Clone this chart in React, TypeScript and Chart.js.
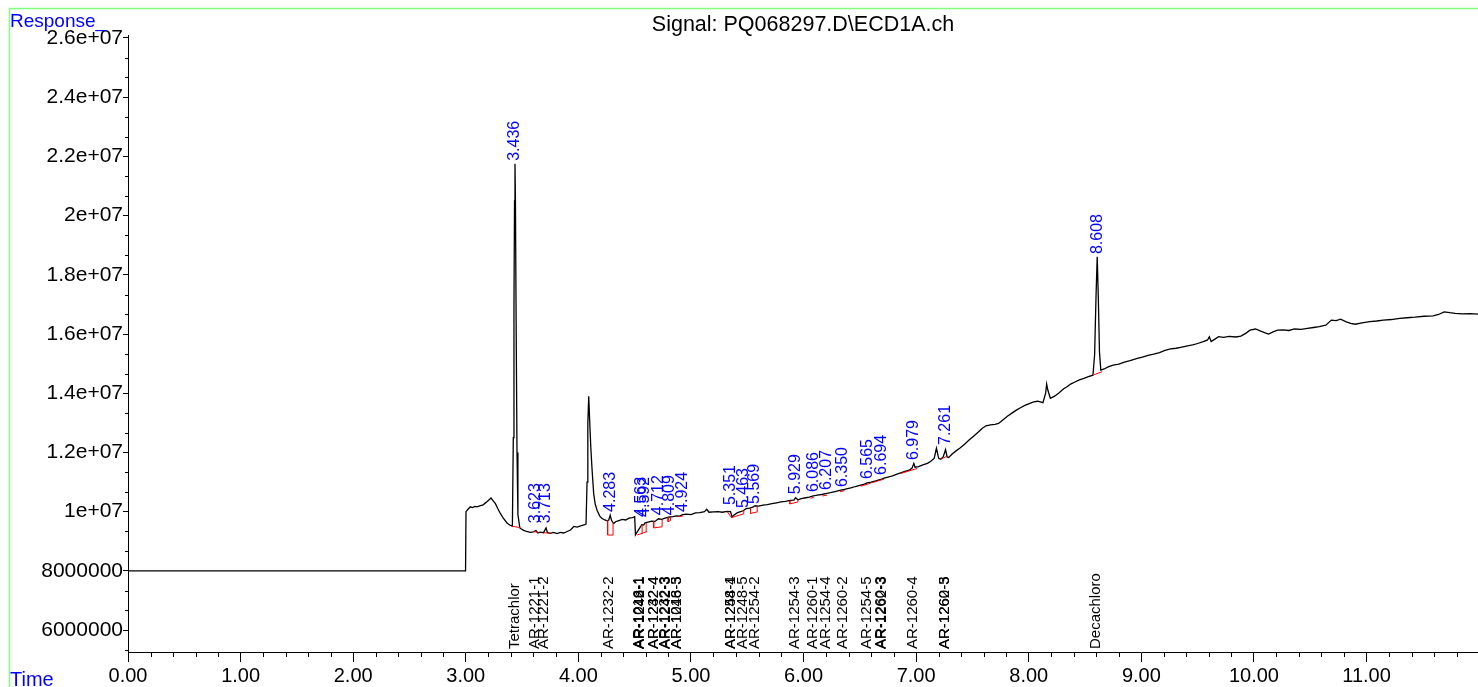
import React, { useEffect, useRef } from "react";
import { Chart, registerables } from "chart.js";

Chart.register(...registerables);

// ---- Data ----
const TITLE = "Signal: PQ068297.D\\ECD1A.ch";
const Y_LABEL = "Response_";
const X_LABEL = "Time";

// axis ticks
const X_TICKS = [0, 1, 2, 3, 4, 5, 6, 7, 8, 9, 10, 11];
const Y_TICKS = [6e6, 8e6, 1e7, 1.2e7, 1.4e7, 1.6e7, 1.8e7, 2e7, 2.2e7, 2.4e7, 2.6e7];

// retention time (min)
const TIME = [
  0.0, 1.0, 2.0, 2.998, 3.002, 3.02, 3.04, 3.06, 3.08, 3.1, 3.13, 3.15, 3.17, 3.19, 3.21, 3.224, 3.24, 3.262, 3.285,
  3.307, 3.33, 3.366, 3.39, 3.414, 3.422, 3.428, 3.433, 3.437, 3.441, 3.447, 3.455, 3.463, 3.48, 3.5, 3.514, 3.54,
  3.573, 3.6, 3.623, 3.64, 3.66, 3.69, 3.713, 3.725, 3.75, 3.78, 3.81, 3.84, 3.87, 3.9, 3.93, 3.96, 3.99, 4.02,
  4.05, 4.068, 4.077, 4.084, 4.092, 4.1, 4.11, 4.122, 4.136, 4.15, 4.166, 4.19, 4.21, 4.235, 4.255, 4.27, 4.283,
  4.295, 4.314, 4.33, 4.36, 4.39, 4.42, 4.45, 4.48, 4.5, 4.507, 4.52, 4.54, 4.563, 4.58, 4.592, 4.62, 4.65, 4.68,
  4.712, 4.74, 4.77, 4.809, 4.84, 4.87, 4.9, 4.924, 4.96, 5.0, 5.04, 5.08, 5.12, 5.14, 5.16, 5.2, 5.24, 5.28, 5.32,
  5.351, 5.365, 5.38, 5.41, 5.44, 5.463, 5.49, 5.52, 5.55, 5.569, 5.6, 5.64, 5.677, 5.72, 5.76, 5.8, 5.84, 5.88,
  5.914, 5.929, 5.95, 5.98, 6.02, 6.05, 6.086, 6.122, 6.16, 6.207, 6.24, 6.28, 6.329, 6.35, 6.38, 6.42, 6.46,
  6.507, 6.54, 6.565, 6.6, 6.64, 6.694, 6.714, 6.75, 6.79, 6.83, 6.862, 6.9, 6.94, 6.965, 6.979, 6.99, 7.02, 7.06,
  7.1, 7.13, 7.16, 7.18, 7.2, 7.218, 7.24, 7.261, 7.275, 7.289, 7.32, 7.36, 7.387, 7.43, 7.47, 7.51, 7.55, 7.585,
  7.62, 7.66, 7.7, 7.732, 7.77, 7.81, 7.847, 7.89, 7.93, 7.97, 8.01, 8.044, 8.08, 8.126, 8.15, 8.159, 8.17, 8.192,
  8.23, 8.27, 8.31, 8.34, 8.372, 8.41, 8.45, 8.49, 8.53, 8.57, 8.585, 8.597, 8.608, 8.618, 8.628, 8.64, 8.67, 8.71,
  8.75, 8.8, 8.85, 8.9, 8.964, 9.01, 9.06, 9.11, 9.161, 9.21, 9.26, 9.31, 9.36, 9.41, 9.456, 9.5, 9.55, 9.588,
  9.604, 9.62, 9.65, 9.686, 9.73, 9.78, 9.84, 9.884, 9.93, 9.965, 10.014, 10.06, 10.1, 10.13, 10.17, 10.21, 10.26,
  10.31, 10.36, 10.42, 10.475, 10.53, 10.58, 10.638, 10.688, 10.73, 10.77, 10.82, 10.86, 10.9, 10.96, 11.03, 11.09,
  11.15, 11.22, 11.295, 11.36, 11.43, 11.51, 11.591, 11.64, 11.689, 11.74, 11.788, 11.85, 11.92, 11.99,
];

// detector response
const RESPONSE = [
  8.0e6, 8.0e6, 8.0e6, 8.0e6, 1.0e7, 1.008e7, 1.0165e7, 1.014e7, 1.018e7, 1.016e7, 1.02e7, 1.022e7, 1.028e7, 1.034e7,
  1.041e7, 1.046e7, 1.038e7, 1.028e7, 1.01e7, 9.94e6, 9.8e6, 9.62e6, 9.55e6, 9.51e6, 1.25e7, 1.7e7, 2.05e7, 2.175e7,
  2.05e7, 1.65e7, 1.2e7, 9.9e6, 9.45e6, 9.4e6, 9.37e6, 9.33e6, 9.3e6, 9.32e6, 9.36e6, 9.28e6, 9.31e6, 9.29e6, 9.45e6,
  9.3e6, 9.27e6, 9.3e6, 9.26e6, 9.3e6, 9.28e6, 9.33e6, 9.38e6, 9.5e6, 9.48e6, 9.52e6, 9.55e6, 9.58e6, 1.1e7, 1.3e7,
  1.39e7, 1.31e7, 1.22e7, 1.14e7, 1.06e7, 1.025e7, 1.005e7, 9.85e6, 9.77e6, 9.72e6, 9.69e6, 9.72e6, 9.88e6, 9.7e6,
  9.6e6, 9.66e6, 9.7e6, 9.74e6, 9.72e6, 9.78e6, 9.8e6, 9.83e6, 9.22e6, 9.3e6, 9.42e6, 9.56e6, 9.55e6, 9.62e6, 9.65e6,
  9.68e6, 9.67e6, 9.76e6, 9.74e6, 9.78e6, 9.82e6, 9.83e6, 9.86e6, 9.85e6, 9.9e6, 9.92e6, 9.9e6, 9.96e6, 9.97e6,
  1.0e7, 1.008e7, 9.98e6, 9.99e6, 1.0e7, 9.98e6, 1.001e7, 1.0e7, 9.82e6, 9.88e6, 9.96e6, 1.0e7, 1.003e7, 1.01e7,
  1.012e7, 1.015e7, 1.02e7, 1.019e7, 1.022e7, 1.024e7, 1.027e7, 1.03e7, 1.033e7, 1.035e7, 1.038e7, 1.039e7, 1.047e7,
  1.04e7, 1.044e7, 1.047e7, 1.049e7, 1.053e7, 1.056e7, 1.058e7, 1.062e7, 1.064e7, 1.068e7, 1.073e7, 1.074e7,
  1.077e7, 1.08e7, 1.085e7, 1.09e7, 1.093e7, 1.097e7, 1.1e7, 1.104e7, 1.11e7, 1.113e7, 1.117e7, 1.121e7, 1.127e7,
  1.131e7, 1.136e7, 1.14e7, 1.148e7, 1.163e7, 1.15e7, 1.152e7, 1.158e7, 1.163e7, 1.17e7, 1.18e7, 1.214e7, 1.18e7,
  1.177e7, 1.185e7, 1.21e7, 1.185e7, 1.183e7, 1.195e7, 1.207e7, 1.214e7, 1.228e7, 1.242e7, 1.255e7, 1.268e7,
  1.281e7, 1.29e7, 1.293e7, 1.295e7, 1.298e7, 1.31e7, 1.322e7, 1.332e7, 1.343e7, 1.352e7, 1.36e7, 1.366e7, 1.371e7,
  1.373e7, 1.368e7, 1.4e7, 1.431e7, 1.41e7, 1.383e7, 1.39e7, 1.402e7, 1.415e7, 1.422e7, 1.431e7, 1.438e7, 1.445e7,
  1.45e7, 1.456e7, 1.461e7, 1.53e7, 1.72e7, 1.861e7, 1.72e7, 1.54e7, 1.478e7, 1.482e7, 1.49e7, 1.495e7, 1.498e7,
  1.505e7, 1.51e7, 1.518e7, 1.522e7, 1.528e7, 1.532e7, 1.537e7, 1.545e7, 1.55e7, 1.552e7, 1.556e7, 1.56e7, 1.563e7,
  1.568e7, 1.574e7, 1.58e7, 1.591e7, 1.575e7, 1.582e7, 1.591e7, 1.589e7, 1.592e7, 1.59e7, 1.593e7, 1.603e7,
  1.613e7, 1.617e7, 1.61e7, 1.604e7, 1.6e7, 1.607e7, 1.613e7, 1.614e7, 1.612e7, 1.617e7, 1.616e7, 1.619e7, 1.622e7,
  1.625e7, 1.63e7, 1.647e7, 1.645e7, 1.65e7, 1.641e7, 1.636e7, 1.633e7, 1.638e7, 1.642e7, 1.644e7, 1.647e7,
  1.649e7, 1.653e7, 1.655e7, 1.657e7, 1.66e7, 1.661e7, 1.666e7, 1.675e7, 1.672e7, 1.67e7, 1.668e7, 1.669e7, 1.667e7,
];

// integration baselines (null separates segments)
const BASE_T = [
  3.41, 3.484, null, 3.6, 3.644, null, 3.689, 3.751, null, 4.26, 4.26, 4.308, 4.308, null, 4.522, 4.611, null,
  4.566, 4.566, null, 4.602, 4.602, null, 4.669, 4.669, 4.744, 4.744, null, 4.797, 4.797, 4.818, 4.818, null,
  4.889, 4.933, null, 5.322, 5.36, 5.469, 5.469, null, 5.529, 5.529, 5.588, 5.588, null, 5.878, 5.878, 5.95, 5.95,
  null, 6.062, 6.092, null, 6.166, 6.21, null, 6.323, 6.364, null, 6.507, 6.596, null, 6.61, 6.714, null, 6.862,
  7.01, null, 7.218, 7.277, null, 8.57, 8.652,
];
const BASE_R = [
  9.51e6, 9.46e6, null, 9.33e6, 9.3e6, null, 9.29e6, 9.27e6, null, 9.7e6, 9.21e6, 9.21e6, 9.62e6, null, 9.21e6,
  9.33e6, null, 9.26e6, 9.56e6, null, 9.31e6, 9.62e6, null, 9.67e6, 9.45e6, 9.49e6, 9.74e6, null, 9.8e6, 9.66e6,
  9.7e6, 9.82e6, null, 9.83e6, 9.86e6, null, 1.0e7, 9.8e6, 9.93e6, 1.004e7, null, 1.012e7, 9.94e6, 9.99e6, 1.019e7,
  null, 1.037e7, 1.026e7, 1.033e7, 1.04e7, null, 1.045e7, 1.049e7, null, 1.053e7, 1.056e7, null, 1.067e7, 1.071e7,
  null, 1.086e7, 1.096e7, null, 1.098e7, 1.11e7, null, 1.129e7, 1.146e7, null, 1.177e7, 1.188e7, null, 1.461e7,
  1.473e7,
];

// labelled peaks: retention time and apex height
const PEAK_RT = [3.436, 3.623, 3.713, 4.283, 4.563, 4.592, 4.712, 4.809, 4.924, 5.351, 5.463, 5.569, 5.929, 6.086,
  6.207, 6.35, 6.565, 6.694, 6.979, 7.261, 8.608];
const PEAK_APEX = [2.175e7, 9.51e6, 9.51e6, 9.89e6, 9.72e6, 9.72e6, 9.78e6, 9.78e6, 9.89e6, 1.012e7, 1.002e7,
  1.016e7, 1.049e7, 1.056e7, 1.063e7, 1.073e7, 1.1e7, 1.114e7, 1.164e7, 1.215e7, 1.86e7];

// compound names and their expected retention times
const COMPOUND_NAMES = [
  "Tetrachlor", "AR-1221-1", "AR-1221-2", "AR-1232-2",
  "AR-1016-1", "AR-1242-1", "AR-1248-1",
  "AR-1232-4", "AR-1242-4",
  "AR-1232-3", "AR-1242-3",
  "AR-1016-5", "AR-1248-3",
  "AR-1248-4", "AR-1254-1", "AR-1248-5", "AR-1254-2",
  "AR-1254-3", "AR-1260-1", "AR-1254-4", "AR-1260-2", "AR-1254-5",
  "AR-1260-3", "AR-1262-3", "AR-1260-4", "AR-1260-5", "AR-1262-3", "Decachloro",
];
const COMPOUND_RT = [
  3.44, 3.61, 3.695, 4.27,
  4.54, 4.542, 4.545,
  4.67, 4.672,
  4.772, 4.775,
  4.876, 4.878,
  5.35, 5.352, 5.46, 5.57,
  5.92, 6.08, 6.2, 6.35, 6.56,
  6.69, 6.692, 6.975, 7.255, 7.257, 8.6,
];

const X_MIN = 0;
const X_MAX = 11.99;
const Y_MIN = 5.26e6;
const Y_MAX = 2.61e7;
const Y_STEP = 2e6;

const FONT = "'Liberation Sans', Arial, Helvetica, sans-serif";

function formatY(v: number): string {
  if (v >= 1e7) return `${+(v / 1e7).toFixed(2)}e+07`;
  return String(v);
}

const overlayPlugin = {
  id: "overlay",
  afterDraw(chart: any) {
    const { ctx, chartArea, scales } = chart;
    const xs = scales.x;
    const ys = scales.y;
    ctx.save();

    // frame
    ctx.strokeStyle = "#80ff80";
    ctx.lineWidth = 1.5;
    ctx.beginPath();
    ctx.moveTo(9.5, chart.height);
    ctx.lineTo(9.5, 8.5);
    ctx.lineTo(chart.width, 8.5);
    ctx.stroke();

    // minor ticks
    ctx.strokeStyle = "#000";
    ctx.lineWidth = 1;
    ctx.beginPath();
    for (let i = 1; i < 60; i++) {
      if (i % 5 === 0) continue;
      const v = i * 0.2;
      if (v > X_MAX) break;
      const px = Math.round(xs.getPixelForValue(v)) + 0.5;
      ctx.moveTo(px, chartArea.bottom);
      ctx.lineTo(px, chartArea.bottom + 5);
    }
    for (let k = -2; k < 31; k++) {
      if (k % 3 === 0) continue;
      const v = 6e6 + (k * Y_STEP) / 3;
      if (v < Y_MIN || v > Y_MAX) continue;
      const py = Math.round(ys.getPixelForValue(v)) + 0.5;
      ctx.moveTo(chartArea.left, py);
      ctx.lineTo(chartArea.left - 3, py);
    }
    ctx.stroke();

    // title + axis captions
    ctx.fillStyle = "#000";
    ctx.font = `21.5px ${FONT}`;
    ctx.textAlign = "center";
    ctx.textBaseline = "alphabetic";
    ctx.fillText(TITLE, (chartArea.left + chartArea.right) / 2, 31);

    ctx.fillStyle = "#0000ff";
    ctx.font = `19px ${FONT}`;
    ctx.textAlign = "left";
    ctx.fillText(Y_LABEL, 10, 27);
    ctx.font = `20px ${FONT}`;
    ctx.fillText(X_LABEL, 10, 686);

    // peak labels
    ctx.font = `16px ${FONT}`;
    ctx.textBaseline = "middle";
    ctx.textAlign = "left";
    PEAK_RT.forEach((rt, i) => {
      const px = xs.getPixelForValue(rt);
      const py = ys.getPixelForValue(PEAK_APEX[i]) - 3;
      ctx.save();
      ctx.translate(px, py);
      ctx.rotate(-Math.PI / 2);
      ctx.fillText(rt.toFixed(3), 0, 0);
      ctx.restore();
    });

    // compound labels
    ctx.fillStyle = "#000";
    ctx.font = `15px ${FONT}`;
    COMPOUND_NAMES.forEach((name, i) => {
      const px = xs.getPixelForValue(COMPOUND_RT[i]);
      ctx.save();
      ctx.translate(px, chartArea.bottom - 3);
      ctx.rotate(-Math.PI / 2);
      ctx.fillText(name, 0, 0);
      ctx.restore();
    });

    ctx.restore();
  },
};

export default function App() {
  const ref = useRef<HTMLCanvasElement | null>(null);

  useEffect(() => {
    if (!ref.current) return;
    const trace = TIME.map((t, i) => ({ x: t, y: RESPONSE[i] }));
    const base = BASE_T.map((t, i) => ({ x: t === null ? NaN : t, y: BASE_R[i] }));

    const chart = new Chart(ref.current, {
      type: "line",
      data: {
        datasets: [
          {
            label: "baseline",
            data: base as any,
            borderColor: "#ff0000",
            borderWidth: 1,
            pointRadius: 0,
            spanGaps: false,
            tension: 0,
          },
          {
            label: "signal",
            data: trace,
            borderColor: "#000000",
            borderWidth: 1.3,
            pointRadius: 0,
            tension: 0,
          },
        ],
      },
      options: {
        animation: false,
        responsive: true,
        maintainAspectRatio: false,
        events: [],
        layout: { padding: { top: 35, left: 0, right: 0, bottom: 0 } },
        plugins: { legend: { display: false }, tooltip: { enabled: false }, title: { display: false } },
        scales: {
          x: {
            type: "linear",
            min: X_MIN,
            max: X_MAX,
            afterBuildTicks: (s: any) => {
              s.ticks = X_TICKS.map((v) => ({ value: v }));
            },
            afterFit: (s: any) => {
              s.height = 35;
            },
            border: { display: true, color: "#000", width: 1 },
            grid: { drawOnChartArea: false, drawTicks: true, tickLength: 10, color: "#000" },
            ticks: {
              autoSkip: false,
              maxRotation: 0,
              padding: 2,
              color: "#000",
              font: { family: FONT, size: 20 },
              callback: (v: any) => Number(v).toFixed(2),
            },
          },
          y: {
            type: "linear",
            min: Y_MIN,
            max: Y_MAX,
            afterBuildTicks: (s: any) => {
              s.ticks = Y_TICKS.map((v) => ({ value: v }));
            },
            afterFit: (s: any) => {
              s.width = 128;
            },
            border: { display: true, color: "#000", width: 1 },
            grid: { drawOnChartArea: false, drawTicks: true, tickLength: 5, color: "#000" },
            ticks: {
              autoSkip: false,
              padding: 0,
              color: "#000",
              font: { family: FONT, size: 21 },
              callback: (v: any) => formatY(Number(v)),
            },
          },
        },
      },
      plugins: [overlayPlugin],
    });
    return () => chart.destroy();
  }, []);

  return (
    <div style={{ position: "fixed", left: 0, top: 0, width: "1478px", height: "687px", background: "#fff" }}>
      <canvas ref={ref} />
    </div>
  );
}
